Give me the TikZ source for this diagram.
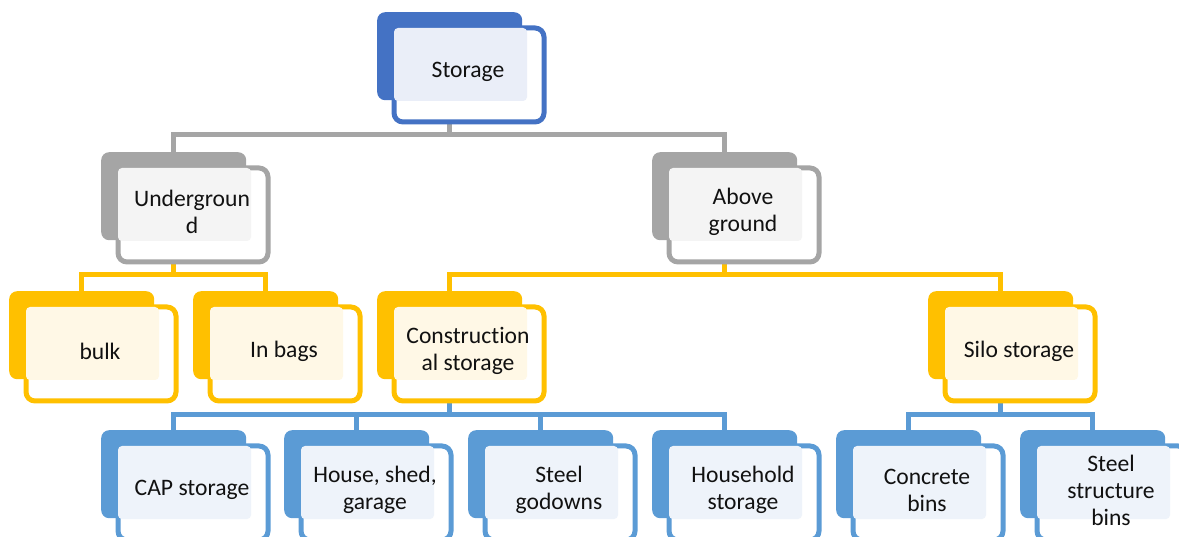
\documentclass[tikz,border=0pt]{standalone}
\usepackage{fontspec}
\setmainfont{Carlito}[Ligatures=NoCommon]
\usetikzlibrary{backgrounds}

\definecolor{topblue}{HTML}{4472C4}
\definecolor{toplight}{HTML}{EAEEF8}
\definecolor{greyc}{HTML}{A5A5A5}
\definecolor{greylight}{HTML}{F4F4F4}
\definecolor{gold}{HTML}{FFC000}
\definecolor{goldlight}{HTML}{FFF8E6}
\definecolor{skyblue}{HTML}{5B9BD5}
\definecolor{skylight}{HTML}{EEF3FA}
\definecolor{inktext}{HTML}{111111}

\tikzset{
  backbox/.style={rectangle, rounded corners=8pt, minimum width=145pt,
    minimum height=88pt, inner sep=0pt, anchor=north west},
  frontbox/.style={rectangle, rounded corners=9pt, minimum width=150pt,
    minimum height=94pt, inner sep=0pt, line width=5pt, fill=white,
    anchor=north west},
  cardtext/.style={align=center, text=inktext, inner sep=0pt,
    font=\fontsize{23.6}{27}\selectfont},
  conn/.style={line width=5pt},
}

% one card: #1 name, #2 left, #3 top, #4 colour, #5 light fill, #6 text
\newcommand\card[6]{%
  \node[backbox, fill=#4] (#1) at (#2,#3) {};
  \node[frontbox, draw=#4] (#1-f) at (#2+14.5,#3+13.5) {};
  \fill[#5, rounded corners=4pt] (#2+17,#3+16) rectangle (#2+150,#3+89);
  \node[cardtext] (#1-t) at ([xshift=-1pt,yshift=3pt]#1-f.center) {#6};
}

\begin{document}
\begin{tikzpicture}[x=1pt, y=-1pt]
\useasboundingbox (0,0) rectangle (1179,537);

% top level
\card{storage}{377}{12}{topblue}{toplight}{Storage}
% second level
\card{under}{101}{152}{greyc}{greylight}{Undergroun\\d}
\card{above}{652}{152}{greyc}{greylight}{Above\\ground}
% third level
\card{bulk}{9}{291}{gold}{goldlight}{bulk}
\card{bags}{193}{291}{gold}{goldlight}{In bags}
\card{constr}{377}{291}{gold}{goldlight}{Construction\\al storage}
\card{silo}{928}{291}{gold}{goldlight}{Silo storage}
% fourth level
\card{cap}{101}{430}{skyblue}{skylight}{CAP storage}
\card{house}{284}{430}{skyblue}{skylight}{House, shed,\\garage}
\card{godown}{468}{430}{skyblue}{skylight}{Steel\\godowns}
\card{household}{652}{430}{skyblue}{skylight}{Household\\storage}
\card{concrete}{836}{430}{skyblue}{skylight}{Concrete\\bins}
\card{steelbins}{1020}{430}{skyblue}{skylight}{Steel\\structure\\bins}

% connectors behind the cards
\begin{pgfonlayer}{background}
  \draw[conn, greyc] (storage.south) -- ++(0,34.5) -| (under.north);
  \draw[conn, greyc] (storage.south) -- ++(0,34.5) -| (above.north);

  \draw[conn, gold] (under.south) -- ++(0,34.5) -| (bulk.north);
  \draw[conn, gold] (under.south) -- ++(0,34.5) -| (bags.north);
  \draw[conn, gold] (above.south) -- ++(0,34.5) -| (constr.north);
  \draw[conn, gold] (above.south) -- ++(0,34.5) -| (silo.north);

  \draw[conn, skyblue] (constr.south) -- ++(0,35) -| (cap.north);
  \draw[conn, skyblue] (constr.south) -- ++(0,35) -| (house.north);
  \draw[conn, skyblue] (constr.south) -- ++(0,35) -| (godown.north);
  \draw[conn, skyblue] (constr.south) -- ++(0,35) -| (household.north);
  \draw[conn, skyblue] (silo.south) -- ++(0,35) -| (concrete.north);
  \draw[conn, skyblue] (silo.south) -- ++(0,35) -| (steelbins.north);
\end{pgfonlayer}
\end{tikzpicture}
\end{document}
